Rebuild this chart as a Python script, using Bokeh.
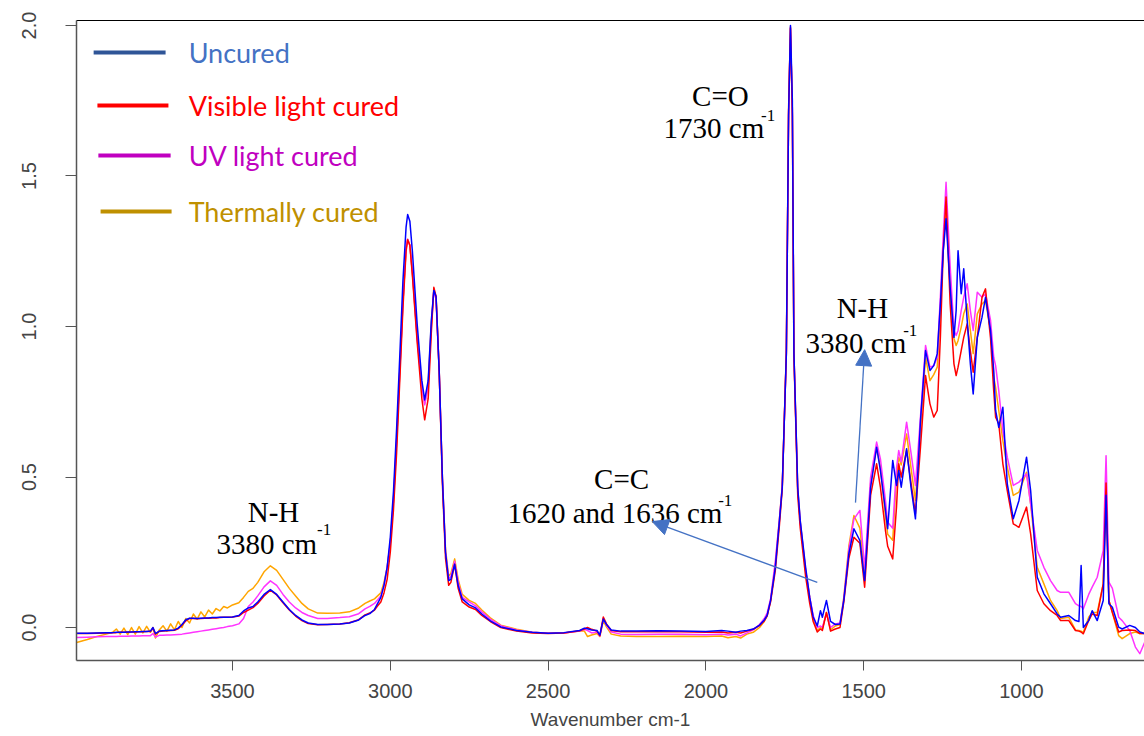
from bokeh.plotting import figure
from bokeh.models import (Range1d, LinearAxis, FixedTicker, PrintfTickFormatter,
                          Label, Arrow, NormalHead, BoxAnnotation)
from bokeh.embed import file_html
from bokeh.resources import INLINE

wavenumber = [
    3994, 3960, 3930, 3900, 3880, 3868, 3856, 3844, 3832, 3820,
    3808, 3796, 3784, 3772, 3760, 3752, 3744, 3732, 3720, 3708,
    3696, 3684, 3672, 3660, 3648, 3636, 3624, 3612, 3600, 3588,
    3576, 3564, 3552, 3540, 3528, 3516, 3500, 3480, 3465, 3450,
    3435, 3420, 3400, 3380, 3360, 3340, 3320, 3300, 3280, 3260,
    3230, 3200, 3160, 3130, 3100, 3080, 3065, 3050, 3040, 3030,
    3020, 3010, 3000, 2990, 2980, 2970, 2960, 2950, 2945, 2938,
    2930, 2915, 2900, 2891, 2880, 2870, 2862, 2855, 2845, 2835,
    2825, 2815, 2808, 2796, 2785, 2772, 2750, 2730, 2710, 2683,
    2650, 2600, 2550, 2500, 2450, 2400, 2385, 2375, 2362, 2345,
    2336, 2325, 2315, 2300, 2270, 2220, 2150, 2080, 2000, 1950,
    1930, 1905, 1890, 1870, 1850, 1830, 1815, 1806, 1795, 1780,
    1767, 1758, 1745, 1738, 1732, 1726, 1721, 1709, 1701, 1684,
    1671, 1660, 1647, 1637, 1631, 1618, 1605, 1590, 1575, 1563,
    1547, 1531, 1512, 1497, 1478, 1459, 1447, 1431, 1424, 1408,
    1396, 1389, 1381, 1364, 1350, 1336, 1320, 1304, 1290, 1278,
    1267, 1257, 1248, 1239, 1226, 1214, 1207, 1201, 1191, 1183,
    1172, 1162, 1153, 1140, 1125, 1114, 1098, 1088, 1082, 1072,
    1059, 1045, 1026, 1008, 984, 971, 950, 929, 908, 887,
    876, 850, 829, 818, 811, 804, 787, 776, 760, 741,
    732, 723, 712, 692, 681, 657, 639, 625, 610,
]

uncured = [
    -0.019, -0.019, -0.018, -0.017, -0.017, -0.016, -0.016, -0.016, -0.015, -0.015,
    -0.014, -0.014, -0.013, -0.013, -0.012, 0.000, -0.020, -0.012, -0.011, -0.010,
    -0.009, -0.008, -0.002, 0.010, 0.026, 0.031, 0.031, 0.030, 0.031, 0.032,
    0.032, 0.033, 0.033, 0.034, 0.034, 0.034, 0.035, 0.040, 0.055, 0.065,
    0.070, 0.085, 0.110, 0.126, 0.110, 0.085, 0.060, 0.040, 0.025, 0.015,
    0.010, 0.010, 0.012, 0.015, 0.025, 0.040, 0.046, 0.060, 0.080, 0.100,
    0.140, 0.200, 0.300, 0.450, 0.660, 0.900, 1.150, 1.330, 1.372, 1.350,
    1.250, 1.010, 0.820, 0.756, 0.820, 1.020, 1.120, 1.100, 0.850, 0.500,
    0.250, 0.156, 0.160, 0.210, 0.140, 0.095, 0.075, 0.065, 0.045, 0.022,
    0.002, -0.010, -0.016, -0.019, -0.017, -0.010, -0.002, -0.004, -0.008, -0.010,
    -0.025, 0.028, 0.010, -0.008, -0.012, -0.012, -0.011, -0.012, -0.013, -0.010,
    -0.012, -0.016, -0.012, -0.010, -0.005, 0.008, 0.025, 0.040, 0.090, 0.200,
    0.355, 0.466, 0.910, 1.700, 2.000, 1.750, 0.910, 0.466, 0.355, 0.200,
    0.100, 0.035, 0.005, 0.056, 0.034, 0.090, 0.020, 0.010, 0.012, 0.090,
    0.245, 0.328, 0.289, 0.156, 0.466, 0.599, 0.522, 0.389, 0.328, 0.555,
    0.472, 0.522, 0.466, 0.594, 0.466, 0.361, 0.688, 0.920, 0.854, 0.870,
    0.909, 1.075, 1.250, 1.358, 1.130, 0.964, 1.053, 1.252, 1.109, 1.192,
    1.020, 0.876, 0.776, 0.964, 1.031, 1.097, 0.987, 0.854, 0.721, 0.665,
    0.732, 0.477, 0.361, 0.422, 0.566, 0.455, 0.167, 0.112, 0.079, 0.045,
    0.034, 0.040, 0.023, 0.020, 0.206, 0.000, 0.023, 0.056, 0.023, 0.090,
    0.439, 0.079, 0.067, 0.001, -0.005, 0.007, 0.000, -0.015, -0.020,
]

visible_cured = [
    -0.020, -0.020, -0.019, -0.018, -0.017, -0.017, -0.016, -0.016, -0.016, -0.015,
    -0.015, -0.014, -0.014, -0.013, -0.013, -0.002, -0.022, -0.013, -0.012, -0.011,
    -0.010, -0.009, -0.004, 0.008, 0.022, 0.030, 0.030, 0.029, 0.030, 0.031,
    0.031, 0.032, 0.032, 0.033, 0.034, 0.034, 0.035, 0.038, 0.050, 0.058,
    0.066, 0.080, 0.105, 0.124, 0.108, 0.082, 0.058, 0.038, 0.023, 0.013,
    0.009, 0.010, 0.012, 0.016, 0.026, 0.042, 0.048, 0.058, 0.072, 0.085,
    0.115, 0.160, 0.250, 0.390, 0.580, 0.820, 1.060, 1.250, 1.288, 1.270,
    1.170, 0.950, 0.760, 0.690, 0.760, 0.980, 1.130, 1.100, 0.850, 0.480,
    0.230, 0.140, 0.150, 0.210, 0.130, 0.085, 0.068, 0.060, 0.040, 0.020,
    0.000, -0.012, -0.018, -0.020, -0.018, -0.011, -0.005, 0.000, -0.006, -0.012,
    -0.027, 0.035, 0.012, -0.010, -0.014, -0.014, -0.013, -0.014, -0.016, -0.015,
    -0.018, -0.016, -0.018, -0.012, -0.006, 0.006, 0.022, 0.038, 0.085, 0.190,
    0.340, 0.460, 0.920, 1.720, 1.995, 1.700, 0.900, 0.440, 0.330, 0.170,
    0.080, 0.020, -0.015, -0.005, -0.010, 0.050, -0.012, -0.005, 0.000, 0.085,
    0.230, 0.300, 0.280, 0.134, 0.440, 0.544, 0.466, 0.322, 0.270, 0.228,
    0.400, 0.544, 0.500, 0.588, 0.480, 0.378, 0.600, 0.837, 0.743, 0.699,
    0.721, 0.964, 1.250, 1.430, 1.075, 0.876, 0.837, 0.865, 0.920, 0.964,
    1.009, 0.920, 0.848, 0.964, 1.097, 1.125, 0.960, 0.787, 0.699, 0.677,
    0.544, 0.455, 0.344, 0.333, 0.400, 0.311, 0.123, 0.079, 0.056, 0.040,
    0.023, 0.023, -0.010, -0.012, -0.015, -0.021, 0.023, 0.045, 0.040, 0.145,
    0.480, 0.090, 0.050, -0.015, -0.010, -0.008, -0.010, -0.020, -0.020,
]

uv_cured = [
    -0.033, -0.032, -0.031, -0.030, -0.030, -0.030, -0.029, -0.029, -0.029, -0.028,
    -0.028, -0.028, -0.027, -0.027, -0.027, -0.020, -0.032, -0.026, -0.026, -0.025,
    -0.025, -0.024, -0.023, -0.022, -0.020, -0.018, -0.016, -0.014, -0.012, -0.010,
    -0.008, -0.006, -0.004, -0.002, 0.000, 0.003, 0.006, 0.012, 0.030, 0.070,
    0.085, 0.105, 0.135, 0.155, 0.140, 0.110, 0.085, 0.065, 0.050, 0.040,
    0.030, 0.030, 0.033, 0.036, 0.046, 0.062, 0.070, 0.080, 0.092, 0.105,
    0.140, 0.200, 0.280, 0.420, 0.620, 0.850, 1.080, 1.260, 1.290, 1.270,
    1.180, 0.960, 0.800, 0.740, 0.800, 1.000, 1.120, 1.090, 0.850, 0.500,
    0.250, 0.160, 0.170, 0.220, 0.150, 0.100, 0.085, 0.072, 0.052, 0.028,
    0.006, -0.008, -0.016, -0.019, -0.018, -0.012, -0.006, -0.010, -0.018, -0.015,
    -0.028, 0.030, 0.008, -0.015, -0.022, -0.023, -0.022, -0.022, -0.024, -0.022,
    -0.025, -0.022, -0.028, -0.018, -0.008, 0.010, 0.030, 0.048, 0.095, 0.220,
    0.360, 0.470, 0.910, 1.700, 1.990, 1.720, 0.910, 0.460, 0.350, 0.190,
    0.100, 0.040, 0.000, 0.005, 0.000, 0.045, 0.000, 0.012, 0.015, 0.095,
    0.260, 0.360, 0.389, 0.195, 0.500, 0.616, 0.560, 0.422, 0.350, 0.330,
    0.530, 0.588, 0.550, 0.682, 0.580, 0.472, 0.700, 0.937, 0.865, 0.870,
    0.898, 1.100, 1.300, 1.479, 1.200, 0.987, 0.970, 0.987, 1.053, 1.097,
    1.142, 1.053, 0.987, 1.114, 1.097, 1.108, 1.020, 0.898, 0.870, 0.787,
    0.654, 0.566, 0.472, 0.483, 0.510, 0.411, 0.256, 0.200, 0.156, 0.123,
    0.117, 0.117, 0.079, 0.072, 0.070, 0.062, 0.110, 0.134, 0.167, 0.256,
    0.571, 0.151, 0.130, 0.034, 0.023, -0.010, -0.065, -0.087, -0.050,
]

thermally_cured = [
    -0.050, -0.040, -0.030, -0.022, -0.016, -0.005, -0.022, -0.002, -0.024, 0.000,
    -0.022, 0.003, -0.018, 0.004, -0.016, 0.000, -0.035, -0.008, 0.006, -0.012,
    0.012, -0.008, 0.020, 0.000, 0.030, 0.015, 0.045, 0.028, 0.052, 0.035,
    0.058, 0.045, 0.063, 0.055, 0.070, 0.065, 0.075, 0.082, 0.100, 0.120,
    0.130, 0.150, 0.185, 0.205, 0.190, 0.160, 0.130, 0.105, 0.080, 0.062,
    0.048, 0.047, 0.048, 0.052, 0.065, 0.080, 0.088, 0.095, 0.105, 0.115,
    0.150, 0.200, 0.280, 0.420, 0.620, 0.850, 1.080, 1.260, 1.290, 1.270,
    1.180, 0.970, 0.800, 0.745, 0.810, 1.010, 1.120, 1.100, 0.850, 0.500,
    0.260, 0.170, 0.180, 0.228, 0.160, 0.110, 0.090, 0.080, 0.058, 0.032,
    0.008, -0.006, -0.016, -0.019, -0.018, -0.012, -0.012, -0.030, -0.025, -0.020,
    -0.030, 0.022, 0.002, -0.022, -0.028, -0.030, -0.030, -0.029, -0.030, -0.028,
    -0.034, -0.030, -0.035, -0.022, -0.016, 0.000, 0.020, 0.040, 0.090, 0.210,
    0.360, 0.470, 0.910, 1.700, 1.990, 1.720, 0.910, 0.460, 0.350, 0.190,
    0.100, 0.030, -0.010, 0.000, -0.005, 0.050, -0.008, 0.005, 0.010, 0.100,
    0.270, 0.372, 0.330, 0.173, 0.480, 0.599, 0.530, 0.370, 0.310, 0.290,
    0.500, 0.566, 0.540, 0.643, 0.530, 0.422, 0.660, 0.898, 0.820, 0.840,
    0.865, 1.050, 1.260, 1.400, 1.150, 0.960, 0.937, 0.953, 0.998, 1.042,
    1.075, 0.987, 0.910, 1.042, 1.075, 1.086, 0.987, 0.832, 0.798, 0.721,
    0.621, 0.533, 0.439, 0.450, 0.516, 0.411, 0.200, 0.145, 0.090, 0.056,
    0.030, 0.034, -0.008, -0.010, -0.012, -0.016, 0.034, 0.050, 0.050, 0.145,
    0.450, 0.090, 0.050, -0.027, -0.037, -0.020, -0.015, -0.020, -0.020,
]

series_names = ["Uncured", "Visible light cured", "UV light cured", "Thermally cured"]
x_ticks = [3500, 3000, 2500, 2000, 1500, 1000]
y_ticks = [0.0, 0.5, 1.0, 1.5, 2.0]

line_colors = ["#0000FF", "#FF0000", "#FF33FF", "#FFA500"]
legend_line_colors = ["#2F5597", "#FF0000", "#C000C0", "#BF9000"]
legend_text_colors = ["#4472C4", "#FF0000", "#C000C0", "#BF9000"]

p = figure(width=1144, height=736,
           x_range=Range1d(3994.3, 610.2), y_range=Range1d(-0.1096, 2.0166),
           output_backend="svg", toolbar_location=None,
           min_border_left=76, min_border_right=0, min_border_top=20, min_border_bottom=76)
p.outline_line_color = None
p.xgrid.visible = False
p.ygrid.visible = False
p.background_fill_color = "white"
p.border_fill_color = "white"

# x axis
xa = p.xaxis[0]
xa.ticker = FixedTicker(ticks=x_ticks)
xa.axis_label = "Wavenumber cm-1"
xa.axis_label_text_font = "Liberation Sans"
xa.axis_label_text_font_style = "normal"
xa.axis_label_text_font_size = "19px"
xa.axis_label_standoff = 8
xa.major_label_text_font = "Liberation Sans"
xa.major_label_text_font_size = "20px"
xa.major_label_standoff = 13
xa.major_tick_out = 10
xa.major_tick_in = 0
xa.minor_tick_line_color = None
xa.axis_line_color = "#555555"
xa.major_tick_line_color = "#555555"
xa.axis_line_width = 1.5

# y axis
ya = p.yaxis[0]
ya.ticker = FixedTicker(ticks=y_ticks)
ya.formatter = PrintfTickFormatter(format="%.1f")
ya.major_label_orientation = "vertical"
ya.major_label_text_font = "Liberation Sans"
ya.major_label_text_font_size = "20px"
ya.major_label_standoff = 29
ya.major_tick_out = 11
ya.major_tick_in = 0
ya.minor_tick_line_color = None
ya.axis_line_color = "#555555"
ya.major_tick_line_color = "#555555"
ya.axis_line_width = 1.5

# top frame line
top_axis = LinearAxis(ticker=FixedTicker(ticks=[]), axis_line_color="black",
                      major_tick_line_color=None, minor_tick_line_color=None,
                      major_label_text_font_size="0px")
p.add_layout(top_axis, "above")

series = [uncured, visible_cured, uv_cured, thermally_cured]
draw_order = [3, 2, 1, 0]
for i in draw_order:
    p.line(wavenumber, series[i], line_color=line_colors[i], line_width=1.5,
           line_join="round")

# legend (manual)
legend_y = [1.910, 1.734, 1.568, 1.382]
legend_x0 = [3940, 3928, 3925, 3918]
legend_x1 = [3712, 3703, 3696, 3693]
legend_text_x = 3639
for i, name in enumerate(series_names):
    p.add_layout(BoxAnnotation(left=legend_x1[i], right=legend_x0[i],
                               bottom=legend_y[i] - 0.0066, top=legend_y[i] + 0.0066,
                               fill_color=legend_line_colors[i], fill_alpha=1.0,
                               line_color=None))
    p.add_layout(Label(x=legend_text_x, y=legend_y[i], text=name,
                       text_color=legend_text_colors[i], text_font="Lato",
                       text_font_size="27px", text_baseline="middle", text_align="left"))

# annotations
serif = "Liberation Serif"
ann = [
    # (title, title_x, title_y, line2, line2_x, line2_y, sup_x, sup_y)
    ("N-H", 3370, 0.385, "3380 cm", 3551, 0.276, 3232, 0.325),
    ("C=O", 1954, 1.767, "1730 cm", 2134, 1.658, 1825, 1.701),
    ("C=C", 2267, 0.495, "1620 and 1636 cm", 2629, 0.379, 1961, 0.422),
    ("N-H", 1504, 1.060, "3380 cm", 1684, 0.944, 1375, 0.986),
]
for t, tx, ty, l2, lx, ly, sx, sy in ann:
    p.add_layout(Label(x=tx, y=ty, text=t, text_font=serif, text_font_size="29px",
                       text_align="center", text_baseline="alphabetic", text_color="black"))
    p.add_layout(Label(x=lx, y=ly, text=l2, text_font=serif, text_font_size="29px",
                       text_align="left", text_baseline="alphabetic", text_color="black"))
    p.add_layout(Label(x=sx, y=sy, text="-1", text_font=serif, text_font_size="17px",
                       text_align="left", text_baseline="alphabetic", text_color="black"))

arrow_color = "#4472C4"
arrows = [(1647, 0.150, 2170, 0.352), (1526, 0.415, 1497, 0.923)]
for xs, ys, xe, ye in arrows:
    p.add_layout(Arrow(end=NormalHead(size=16, fill_color=arrow_color, line_color=arrow_color),
                       x_start=xs, y_start=ys, x_end=xe, y_end=ye,
                       line_color=arrow_color, line_width=1.3))

open("out.html", "w").write(file_html(p, INLINE))
